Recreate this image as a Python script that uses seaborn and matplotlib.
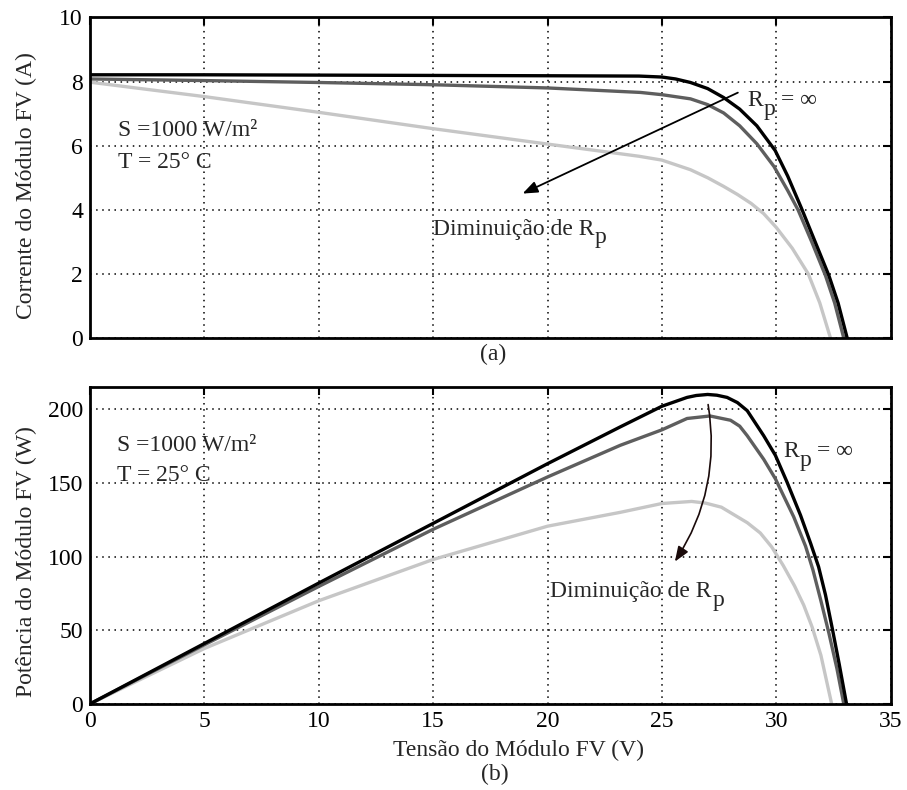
import numpy as np
import matplotlib
matplotlib.use("Agg")
import matplotlib.pyplot as plt
import seaborn as sns

# I-V curves (panel a): voltage / current for each parallel resistance
v_inf = [0, 5, 10, 15, 20, 24, 25, 25.6, 26.25, 27, 27.7, 28.4, 29.15, 29.95, 30.5, 31.1, 31.7, 32.3, 32.7, 33.1]
i_inf = [8.21, 8.21, 8.20, 8.19, 8.18, 8.17, 8.14, 8.08, 7.97, 7.78, 7.50, 7.14, 6.62, 5.85, 5.05, 4.05, 3.0, 1.95, 1.1, 0]

v_mid = [0, 5, 10, 15, 20, 24.06, 25, 26.25, 27, 27.7, 28.4, 29.15, 29.9, 30.5, 30.95, 31.55, 32.15, 32.55, 32.95]
i_mid = [8.08, 8.03, 7.97, 7.90, 7.80, 7.66, 7.59, 7.46, 7.28, 7.02, 6.62, 6.06, 5.35, 4.60, 4.0, 3.0, 1.95, 1.1, 0]

v_low = [0, 5, 10, 15, 20, 24, 25, 26.25, 27, 27.7, 28.3, 28.9, 29.45, 30, 30.7, 31.4, 31.9, 32.37]
i_low = [7.98, 7.53, 7.04, 6.53, 6.05, 5.67, 5.55, 5.25, 5.0, 4.73, 4.48, 4.2, 3.88, 3.45, 2.8, 2.0, 1.1, 0]

# P-V curves (panel b)
pv_inf = [0, 5, 10, 15, 20, 23.18, 25, 26.1, 26.5, 27, 27.4, 27.85, 28.3, 28.73, 29.45, 29.96, 30.47,
          31.06, 31.5, 31.85, 32.15, 32.45, 32.75, 33.07]
p_inf = [0, 41, 82, 122.5, 163, 188, 202, 208, 209.3, 210, 209.5, 208, 204.5, 199, 182, 168.7, 150.5,
         128, 109, 93, 74, 51, 27, 0]

pv_mid = [0, 5, 10, 15, 20, 23.18, 25, 26.1, 27.1, 28, 28.4, 28.73, 29.45, 29.96, 30.76, 31.28, 31.6,
          31.95, 32.3, 32.65, 32.95]
p_mid = [0, 40.1, 79.7, 118.5, 154, 175.5, 186, 193.7, 195.4, 192.5, 188.5, 182, 166, 152.8, 127, 107, 91,
         70, 48, 24, 0]

pv_low = [0, 5, 10, 15, 20, 23.18, 25, 26.3, 26.9, 27.6, 28.73, 29.3, 29.8, 30.3, 30.8, 31.2, 31.57, 31.95, 32.42]
p_low = [0, 37.6, 70, 98, 120.6, 130, 136, 137.4, 136.3, 133.5, 123, 116, 106.5, 94, 80, 67, 52, 33, 0]

colors = ["#000000", "#5e5e5e", "#c6c6c6"]

sns.set_style("white")
plt.rcParams['font.family'] = ['Liberation Serif', 'DejaVu Serif']

fig = plt.figure(figsize=(9.07, 7.9), dpi=100)
ax1 = fig.add_axes([0.0992, 0.572, 0.8828, 0.406])
ax2 = fig.add_axes([0.0992, 0.109, 0.8828, 0.401])

fs = 17


def style(ax):
    ax.grid(True, linestyle=(0, (1, 3)), color='k', linewidth=1.1)
    for s in ax.spines.values():
        s.set_linewidth(2.0)
        s.set_color('k')
    ax.tick_params(direction='in', length=6, width=1.5, top=True, right=True,
                   labelsize=fs, colors='k', pad=5)
    ax.set_xlim(0, 35)
    ax.set_xticks(range(0, 36, 5))


def rp_text(ax, x, y, prefix):
    # "R" with a full-size lowered "p" subscript
    t = ax.text(x, y, prefix + "R", fontsize=fs, va='baseline', ha='left')
    ax.annotate("p", xy=(1, 0), xycoords=t, xytext=(0.3, -2.4), textcoords='offset points',
                fontsize=fs, va='baseline', ha='left')
    return t


# Panel (a)
for v, i, c in [(v_low, i_low, colors[2]), (v_mid, i_mid, colors[1]), (v_inf, i_inf, colors[0])]:
    sns.lineplot(x=v, y=i, ax=ax1, color=c, linewidth=2.4, sort=False, estimator=None)
style(ax1)
ax1.set_ylim(0, 10)
ax1.set_yticks(range(0, 11, 2))
ax1.set_xticklabels([])
ax1.set_ylabel("Corrente do Módulo FV (A)", fontsize=fs)
ax1.yaxis.set_label_coords(-53 / 801, 0.475)
ax1.text(1.22, 6.31, "S =1000 W/m²", fontsize=fs, va='baseline')
ax1.text(1.22, 5.31, "T = 25° C", fontsize=fs, va='baseline')
r1 = rp_text(ax1, 28.74, 7.23, "")
ax1.annotate("= ∞", xy=(1, 0), xycoords=r1, xytext=(12.5, 0), textcoords='offset points',
             fontsize=fs, va='bottom', ha='left')
rp_text(ax1, 15.0, 3.22, "Diminuição de ")
ax1.annotate("", xy=(18.8, 4.47), xytext=(28.43, 7.69),
             arrowprops=dict(arrowstyle='-|>,head_length=0.9,head_width=0.35',
                             color='k', lw=1.3))
ax1.text(0.504, -0.05, "(a)", transform=ax1.transAxes, ha='center', va='center', fontsize=fs)

# Panel (b)
for v, p, c in [(pv_low, p_low, colors[2]), (pv_mid, p_mid, colors[1]), (pv_inf, p_inf, colors[0])]:
    sns.lineplot(x=v, y=p, ax=ax2, color=c, linewidth=2.4, sort=False, estimator=None)
style(ax2)
ax2.set_ylim(0, 215)
ax2.set_yticks(range(0, 201, 50))
ax2.set_xlabel("Tensão do Módulo FV (V)", fontsize=fs)
ax2.xaxis.set_label_coords(0.535, -0.115)
ax2.set_ylabel("Potência do Módulo FV (W)", fontsize=fs)
ax2.yaxis.set_label_coords(-53 / 801, 0.448)
ax2.text(1.17, 171.4, "S =1000 W/m²", fontsize=fs, va='baseline')
ax2.text(1.17, 151, "T = 25° C", fontsize=fs, va='baseline')
r2 = rp_text(ax2, 30.33, 167.3, "")
ax2.annotate("= ∞", xy=(1, 0), xycoords=r2, xytext=(12.5, 0), textcoords='offset points',
             fontsize=fs, va='bottom', ha='left')
rp_text(ax2, 20.12, 72.3, "Diminuição de ")
ax2.annotate("", xy=(25.5, 95), xytext=(27.0, 205),
             arrowprops=dict(arrowstyle='-|>,head_length=0.9,head_width=0.35',
                             color='#1a0a0a', lw=1.2,
                             connectionstyle='arc3,rad=-0.2'))
fig.text(0.546, 0.02, "(b)", ha='center', va='center', fontsize=fs)

fig.savefig("out.png", dpi=100)
